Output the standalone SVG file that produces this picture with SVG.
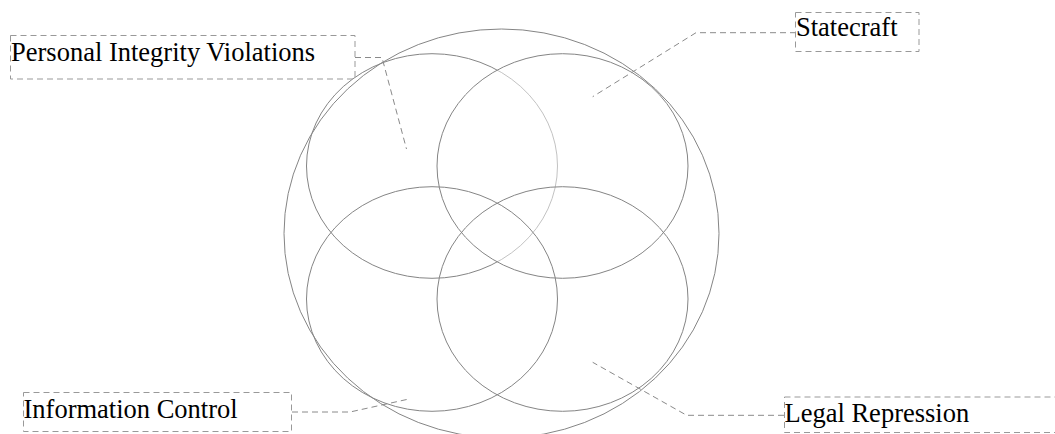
<svg xmlns="http://www.w3.org/2000/svg" width="1055" height="434" viewBox="0 0 1055 434">
<style>
.c{fill:none;stroke:#858585;stroke-width:1}
.cf{fill:#fff;fill-opacity:0.5;stroke:#858585;stroke-width:1}
.box{fill:none;stroke:#999;stroke-width:1;stroke-dasharray:6,4}
.lk{fill:none;stroke:#8a8a8a;stroke-width:1;stroke-dasharray:6,4}
text{font-family:'Times New Roman','Liberation Serif',Tinos,'Nimbus Roman','FreeSerif',Times,serif;font-size:26.5px;fill:#000}
</style>
<rect width="1055" height="434" fill="#fff"/>
<g id="venn">
<ellipse id="outer" class="c" cx="501.5" cy="233.5" rx="217.5" ry="204.5"/>
<ellipse id="set-tl" class="c" cx="432" cy="166" rx="125.5" ry="112.3"/>
<ellipse id="set-tr" class="cf" cx="562.5" cy="166" rx="125.5" ry="112.3"/>
<ellipse id="set-bl" class="c" cx="432" cy="299" rx="125.5" ry="112.3"/>
<ellipse id="set-br" class="c" cx="562.5" cy="299" rx="125.5" ry="112.3"/>
</g>
<g id="connectors">
<path class="lk" d="M355,57.5 H382 L406.5,149"/>
<path class="lk" d="M796,32.7 H696 L592.7,96.7"/>
<path class="lk" d="M292,412 H350 L409,399"/>
<path class="lk" d="M784,415.3 H686.7 L592.7,362.3"/>
</g>
<g id="label-piv">
<rect class="box" x="10.5" y="35.5" width="344.5" height="43.5"/>
<text x="11" y="61">Personal Integrity Violations</text>
</g>
<g id="label-statecraft">
<rect class="box" x="795.5" y="12.5" width="123.5" height="39"/>
<text x="796" y="36">Statecraft</text>
</g>
<g id="label-info">
<rect class="box" x="23.5" y="392.5" width="268" height="39"/>
<text x="23.5" y="418">Information Control</text>
</g>
<g id="label-legal">
<rect class="box" x="784.5" y="397" width="290" height="35.5"/>
<text x="784.5" y="422">Legal Repression</text>
</g>
</svg>
